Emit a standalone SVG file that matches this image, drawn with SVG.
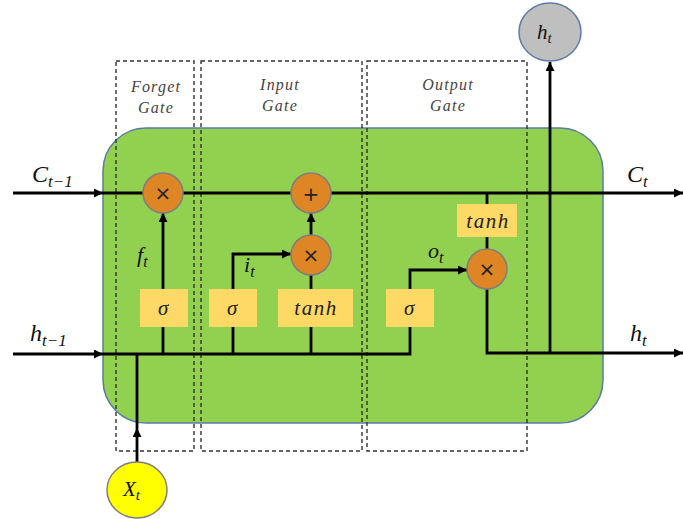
<svg xmlns="http://www.w3.org/2000/svg" width="683" height="519" viewBox="0 0 683 519">
<defs>
<style>
.lbl{font-family:"Liberation Serif",serif;font-style:italic;fill:#111}
.gate{font-family:"Liberation Serif",serif;font-style:italic;font-size:16px;letter-spacing:1.2px;fill:#444;text-anchor:middle}
.box{fill:#FFD966}
.op{fill:#DE8526;stroke:#7F7F7F;stroke-width:1.5}
.conn{fill:none;stroke:#000;stroke-width:2.8}
.dash{fill:none;stroke:#333;stroke-width:1.4;stroke-dasharray:4 3}
.sym{font-family:"DejaVu Sans",sans-serif;font-size:20px;fill:#222;text-anchor:middle}
.bt{font-family:"Liberation Serif",serif;font-style:italic;font-size:21px;letter-spacing:1.5px;fill:#222;text-anchor:middle}
</style>
<marker id="ah" viewBox="0 0 10 10" refX="10" refY="5" markerWidth="9" markerHeight="9" markerUnits="userSpaceOnUse" orient="auto">
<path d="M0,0 L10,5 L0,10 z" fill="#000"/>
</marker>
</defs>
<rect id="cell" x="103" y="128" width="500" height="295" rx="43" ry="43" fill="#92D050" stroke="#5B7BA6" stroke-width="1.5"/>
<g id="gates">
<rect class="dash" x="116" y="61" width="78" height="390"/>
<rect class="dash" x="201" y="61" width="161" height="390"/>
<rect class="dash" x="367" y="61" width="160" height="390"/>
<text class="gate" x="156" y="92">Forget</text>
<text class="gate" x="156" y="113">Gate</text>
<text class="gate" x="280" y="90">Input</text>
<text class="gate" x="280" y="111">Gate</text>
<text class="gate" x="448" y="90">Output</text>
<text class="gate" x="448" y="111">Gate</text>
</g>
<g id="connectors">
<path class="conn" d="M13,193 H103" marker-end="url(#ah)"/>
<path class="conn" d="M103,193 H683" marker-end="url(#ah)"/>
<path class="conn" d="M13,354 H103" marker-end="url(#ah)"/>
<path class="conn" d="M103,354 H410 V270 H467" marker-end="url(#ah)"/>
<path class="conn" d="M137,462 V428" marker-end="url(#ah)"/>
<path class="conn" d="M137,428 V354"/>
<path class="conn" d="M163,354 V213" marker-end="url(#ah)"/>
<path class="conn" d="M233,354 V254 H291" marker-end="url(#ah)"/>
<path class="conn" d="M311,354 V275"/>
<path class="conn" d="M311,235 V213" marker-end="url(#ah)"/>
<path class="conn" d="M487,193 V249"/>
<path class="conn" d="M487,289 V353 H683" marker-end="url(#ah)"/>
<path class="conn" d="M550,353 V62" marker-end="url(#ah)"/>
</g>
<g id="forget_sigma"><rect class="box" x="140" y="289" width="48" height="38"/><text class="bt" x="164" y="315">σ</text></g>
<g id="input_sigma"><rect class="box" x="209" y="289" width="48" height="38"/><text class="bt" x="233" y="315">σ</text></g>
<g id="input_tanh"><rect class="box" x="278" y="289" width="75" height="38"/><text class="bt" x="316" y="315">tanh</text></g>
<g id="output_sigma"><rect class="box" x="386" y="289" width="48" height="38"/><text class="bt" x="410" y="315">σ</text></g>
<g id="output_tanh"><rect class="box" x="457" y="204" width="60" height="33"/><text class="bt" x="488" y="228">tanh</text></g>
<g id="forget_mul"><circle class="op" cx="163" cy="193" r="20"/><text class="sym" x="163" y="200">×</text></g>
<g id="add"><circle class="op" cx="311" cy="193" r="20"/><text class="sym" x="311" y="201" font-size="26">+</text></g>
<g id="input_mul"><circle class="op" cx="311" cy="255" r="20"/><text class="sym" x="311" y="262">×</text></g>
<g id="output_mul"><circle class="op" cx="487" cy="269" r="20"/><text class="sym" x="487" y="276">×</text></g>
<g id="h_out"><ellipse cx="550" cy="32" rx="31" ry="29" fill="#BFBFBF" stroke="#5B7BA6" stroke-width="1.5"/><text class="lbl" x="537" y="39" font-size="21">h<tspan font-size="15" dy="4">t</tspan></text></g>
<g id="x_in"><ellipse cx="137" cy="490" rx="30" ry="28" fill="#FFFF00" stroke="#7F7F7F" stroke-width="1.5"/><text class="lbl" x="123" y="496" font-size="21">X<tspan font-size="15" dy="4">t</tspan></text></g>
<g id="labels">
<text class="lbl" x="32" y="182" font-size="24">C<tspan font-size="17" dy="5">t−1</tspan></text>
<text class="lbl" x="30" y="341" font-size="24">h<tspan font-size="17" dy="5">t−1</tspan></text>
<text class="lbl" x="627" y="182" font-size="24">C<tspan font-size="17" dy="5">t</tspan></text>
<text class="lbl" x="630" y="341" font-size="24">h<tspan font-size="17" dy="5">t</tspan></text>
<text class="lbl" x="137" y="262" font-size="22">f<tspan font-size="16" dy="5">t</tspan></text>
<text class="lbl" x="244" y="272" font-size="22">i<tspan font-size="16" dy="5">t</tspan></text>
<text class="lbl" x="428" y="258" font-size="22">o<tspan font-size="16" dy="5">t</tspan></text>
</g>
</svg>
